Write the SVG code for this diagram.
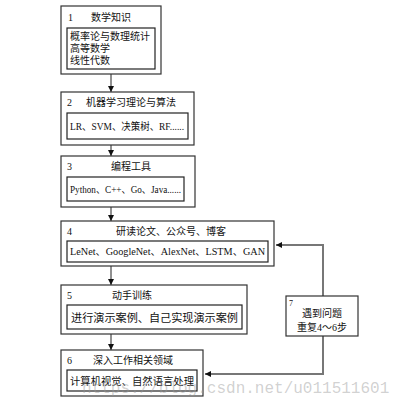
<svg xmlns="http://www.w3.org/2000/svg" width="400" height="405" viewBox="0 0 400 405">
<defs>
<style>
.ob{fill:#fff;stroke:#333;stroke-width:1.2}
.ib{fill:#fff;stroke:#222;stroke-width:1.2}
.t{font-family:"Liberation Serif","Noto Sans CJK SC",serif;font-size:10px;fill:#111}
.c{stroke:#222;stroke-width:1;fill:none}
.f{stroke:#777;stroke-width:2;fill:none}
</style>
<marker id="ah" markerWidth="6" markerHeight="6" refX="6" refY="3" orient="auto" markerUnits="userSpaceOnUse">
<path d="M0,0 L6,3 L0,6 Z" fill="#111"/>
</marker>
</defs>
<rect width="400" height="405" fill="#fff"/>
<g id="connectors">
<line class="c" x1="111" y1="74" x2="111" y2="92" marker-end="url(#ah)"/>
<line class="c" x1="111" y1="145" x2="111" y2="156" marker-end="url(#ah)"/>
<line class="c" x1="111" y1="207" x2="111" y2="221" marker-end="url(#ah)"/>
<line class="c" x1="111" y1="266" x2="111" y2="285" marker-end="url(#ah)"/>
<line class="c" x1="111" y1="334" x2="111" y2="350" marker-end="url(#ah)"/>
<path class="f" d="M323,296 V245 H276" marker-end="url(#ah)"/>
<path class="f" d="M323,336 V374 H205" marker-end="url(#ah)"/>
</g>
<g id="node1">
<rect class="ob" x="61" y="6" width="100" height="68"/>
<text class="t" x="68" y="21">1</text>
<text class="t" x="91" y="21">数学知识</text>
<rect class="ib" x="67" y="28" width="88" height="41"/>
<text class="t" x="70" y="40">概率论与数理统计</text>
<text class="t" x="70" y="52">高等数学</text>
<text class="t" x="70" y="64">线性代数</text>
</g>
<g id="node2">
<rect class="ob" x="61" y="92" width="133" height="53"/>
<text class="t" x="67" y="106">2</text>
<text class="t" x="86" y="106">机器学习理论与算法</text>
<rect class="ib" x="67" y="113" width="121" height="26"/>
<text class="t" x="70" y="130" textLength="114" lengthAdjust="spacingAndGlyphs">LR、SVM、决策树、RF......</text>
</g>
<g id="node3">
<rect class="ob" x="61" y="156" width="134" height="51"/>
<text class="t" x="67" y="170">3</text>
<text class="t" x="111" y="170">编程工具</text>
<rect class="ib" x="67" y="177" width="117" height="24"/>
<text class="t" x="70" y="193" textLength="111" lengthAdjust="spacingAndGlyphs">Python、C++、Go、Java......</text>
</g>
<g id="node4">
<rect class="ob" x="61" y="221" width="213" height="45"/>
<text class="t" x="67" y="235">4</text>
<text class="t" x="116" y="235">研读论文、公众号、博客</text>
<rect class="ib" x="67" y="241" width="201" height="21"/>
<text class="t" x="70" y="255" textLength="195" lengthAdjust="spacingAndGlyphs">LeNet、GoogleNet、AlexNet、LSTM、GAN</text>
</g>
<g id="node5">
<rect class="ob" x="61" y="285" width="186" height="49"/>
<text class="t" x="67" y="299">5</text>
<text class="t" x="112" y="299">动手训练</text>
<rect class="ib" x="67" y="305" width="175" height="24"/>
<text class="t" x="71" y="322" style="font-size:11px" textLength="167" lengthAdjust="spacingAndGlyphs">进行演示案例、自己实现演示案例</text>
</g>
<g id="node6">
<rect class="ob" x="61" y="350" width="142" height="46"/>
<text class="t" x="67" y="364">6</text>
<text class="t" x="93" y="364">深入工作相关领域</text>
<rect class="ib" x="67" y="370" width="130" height="21"/>
<text class="t" x="70" y="385" style="font-size:10.5px" textLength="124" lengthAdjust="spacingAndGlyphs">计算机视觉、自然语言处理</text>
</g>
<g id="node7">
<rect class="ob" x="286" y="296" width="72" height="40"/>
<text class="t" x="289" y="306" style="font-size:8px">7</text>
<text class="t" x="322" y="317" text-anchor="middle">遇到问题</text>
<text class="t" x="322" y="331" text-anchor="middle">重复4～6步</text>
</g>
<text x="82" y="393" style="font-family:'Liberation Mono',monospace;font-size:16px;fill:#999;fill-opacity:0.45">https://blog.csdn.net/u011511601</text>
</svg>
